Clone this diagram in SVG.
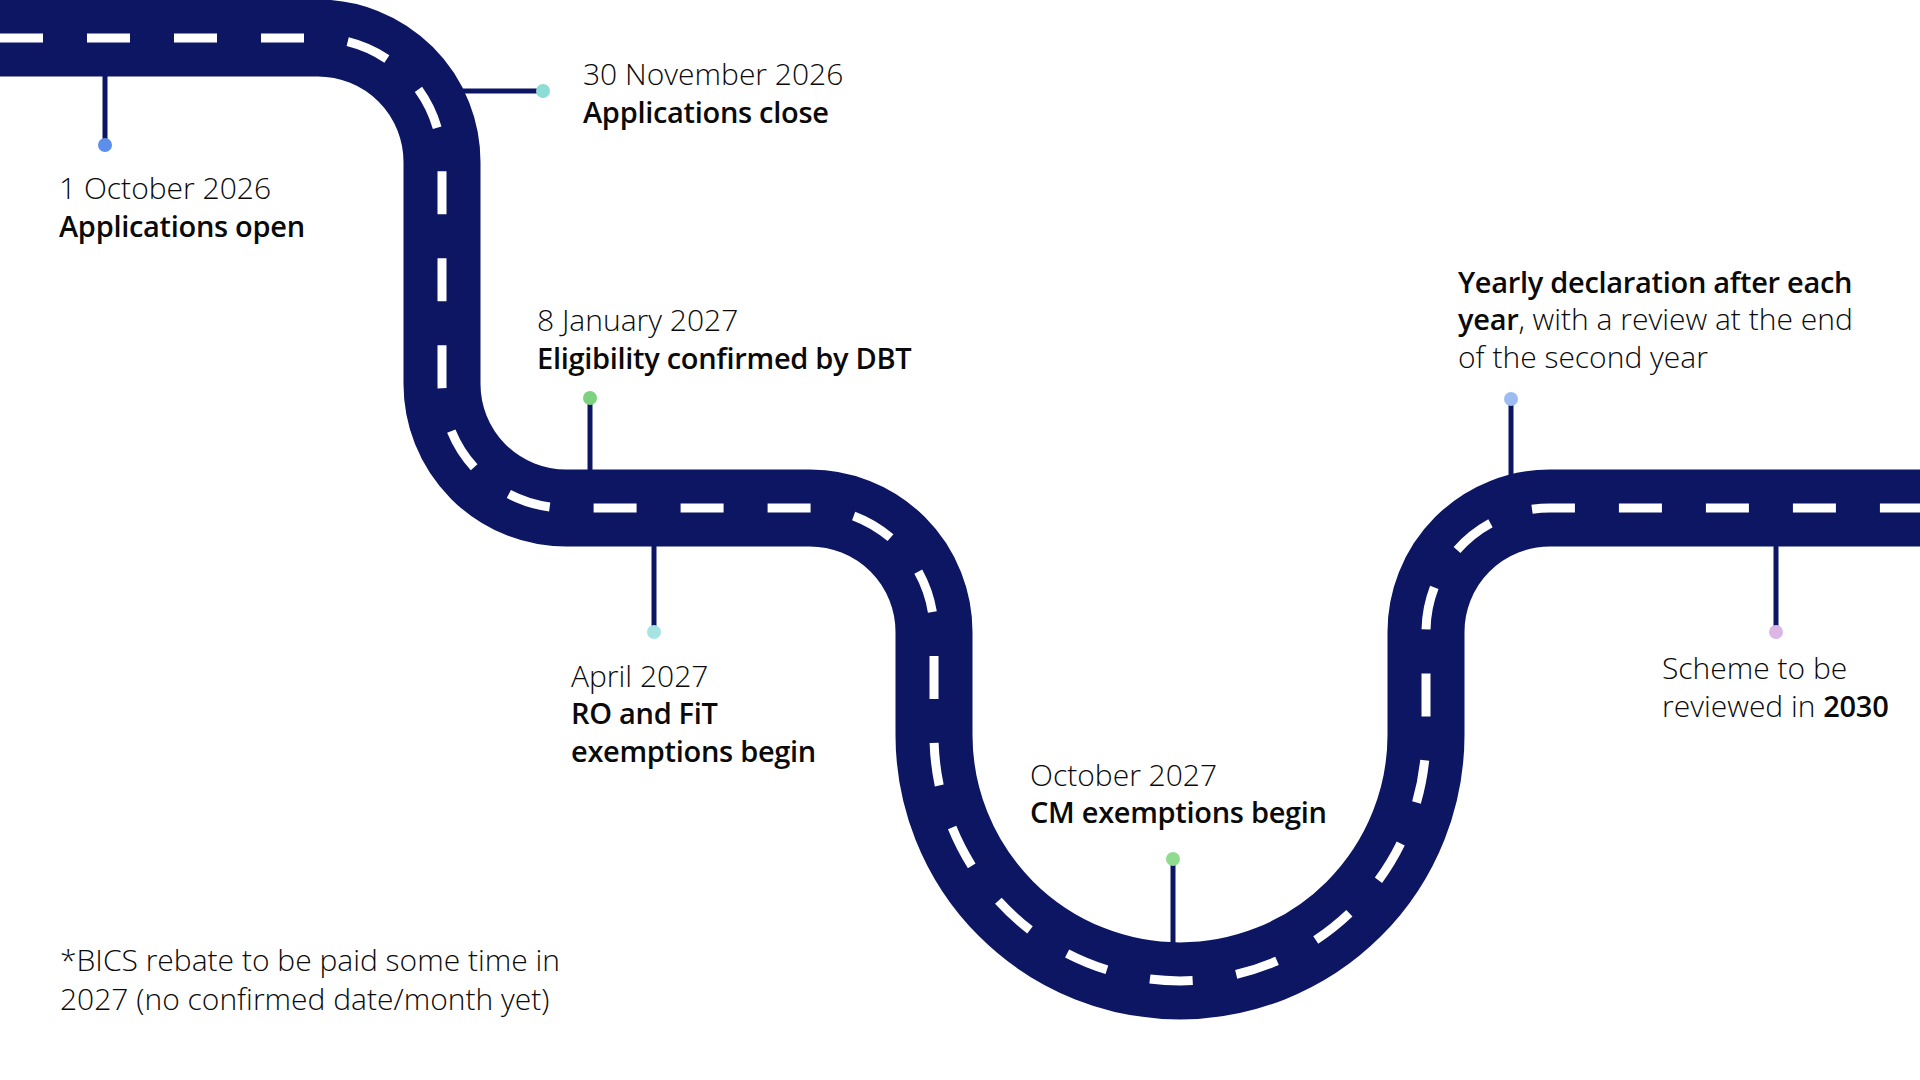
<svg xmlns="http://www.w3.org/2000/svg" width="1920" height="1080" viewBox="0 0 1920 1080">
<style>
.road{fill:none;stroke:#0c1662;stroke-width:77}
.lane{fill:none;stroke:#ffffff;stroke-width:9;stroke-dasharray:43 44}
.pin{stroke:#0c1662;stroke-width:5;fill:none}
text{font-family:"Open Sans","Noto Sans","Liberation Sans",sans-serif;font-size:30px;fill:#0a0a0a}
.lt{font-weight:300}
.bd{font-weight:600;font-size:29px;letter-spacing:-0.3px}
</style>
<rect width="1920" height="1080" fill="#ffffff"/>
<g id="connectors">
<path id="road" class="road" d="M -20 38 H 318 A 124 124 0 0 1 442 162 V 384 A 124 124 0 0 0 566 508 H 810 A 124 124 0 0 1 934 632 V 735 A 246 246 0 0 0 1426 735 V 632 A 124 124 0 0 1 1550 508 H 1940"/>
<path id="lane" class="lane" d="M 0 38 H 318 A 124 124 0 0 1 442 162 V 384 A 124 124 0 0 0 566 508 H 810 A 124 124 0 0 1 934 632 V 735 A 246 246 0 0 0 1426 735 V 632 A 124 124 0 0 1 1550 508 H 1940"/>
</g>
<g id="m1">
<line class="pin" x1="105" y1="68" x2="105" y2="145"/>
<circle cx="105" cy="145" r="7" fill="#5b8fea"/>
<text x="59" y="199" class="lt">1 October 2026</text>
<text x="59" y="237" class="bd">Applications open</text>
</g>
<g id="m2">
<line class="pin" x1="455" y1="91" x2="543" y2="91"/>
<circle cx="543" cy="91" r="7" fill="#8ddcd6"/>
<text x="583" y="85" class="lt">30 November 2026</text>
<text x="583" y="123" class="bd">Applications close</text>
</g>
<g id="m3">
<line class="pin" x1="590" y1="398" x2="590" y2="478"/>
<circle cx="590" cy="398" r="7" fill="#7ed17f"/>
<text x="537" y="331" class="lt">8 January 2027</text>
<text x="537" y="369" class="bd">Eligibility confirmed by DBT</text>
</g>
<g id="m4">
<line class="pin" x1="654" y1="540" x2="654" y2="632"/>
<circle cx="654" cy="632" r="7" fill="#a6e4e4"/>
<text x="571" y="687" class="lt">April 2027</text>
<text x="571" y="724" class="bd">RO and FiT</text>
<text x="571" y="762" class="bd">exemptions begin</text>
</g>
<g id="m5">
<line class="pin" x1="1173" y1="859" x2="1173" y2="950"/>
<circle cx="1173" cy="859" r="7" fill="#8fdb8f"/>
<text x="1030" y="786" class="lt">October 2027</text>
<text x="1030" y="823" class="bd">CM exemptions begin</text>
</g>
<g id="m6">
<line class="pin" x1="1511" y1="399" x2="1511" y2="482"/>
<circle cx="1511" cy="399" r="7" fill="#9dbdf2"/>
<text x="1458" y="293" class="bd">Yearly declaration after each</text>
<text x="1458" y="330"><tspan class="bd">year</tspan><tspan class="lt">, with a review at the end</tspan></text>
<text x="1458" y="368" class="lt">of the second year</text>
</g>
<g id="m7">
<line class="pin" x1="1776" y1="540" x2="1776" y2="632"/>
<circle cx="1776" cy="632" r="7" fill="#dcb6e6"/>
<text x="1662" y="679" class="lt">Scheme to be</text>
<text x="1662" y="717"><tspan class="lt">reviewed in </tspan><tspan class="bd">2030</tspan></text>
</g>
<g id="note">
<text x="60" y="971" class="lt">*BICS rebate to be paid some time in</text>
<text x="60" y="1010" class="lt">2027 (no confirmed date/month yet)</text>
</g>
</svg>
